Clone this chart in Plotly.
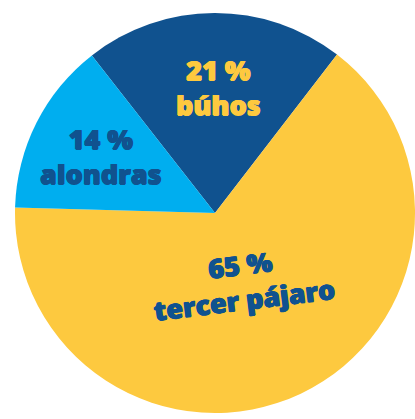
import plotly.graph_objects as go

# Data
labels = ["búhos", "tercer pájaro", "alondras"]
values = [21, 65, 14]
pct_text = ["21 %", "65 %", "14 %"]
colors = ["#10528F", "#FDC93F", "#00AEEF"]
text_colors = ["#FDC93F", "#10528F", "#10528F"]

W, H = 415, 419

fig = go.Figure(go.Pie(
    labels=labels,
    values=values,
    sort=False,
    direction="clockwise",
    rotation=-38,
    marker=dict(colors=colors, line=dict(width=0)),
    textinfo="none",
    hoverinfo="skip",
    showlegend=False,
    domain=dict(x=[15 / W, 1], y=[1 - 413 / H, 1 - 13 / H]),
))

# label placement (pixels): (center x, center y, angle)
placement = [
    (218.5, 87, 0),
    (242, 282, -7),
    (101, 156, 0),
]

annotations = []
for i, (x, y, ang) in enumerate(placement):
    c = text_colors[i]
    annotations.append(dict(
        x=x / W, y=1 - y / H, xref="paper", yref="paper",
        text=f"{pct_text[i]}<br>{labels[i]}", showarrow=False, textangle=ang,
        xanchor="center", yanchor="middle", align="center",
        font=dict(family="Open Sans", size=27, weight=800, color=c,
                  shadow=f"0.6px 0 0 {c}, -0.6px 0 0 {c}, 0 0.5px 0 {c}"),
    ))

fig.update_layout(
    width=W, height=H,
    margin=dict(l=0, r=0, t=0, b=0),
    paper_bgcolor="white",
    plot_bgcolor="white",
    annotations=annotations,
)

fig.write_html("out.html")
